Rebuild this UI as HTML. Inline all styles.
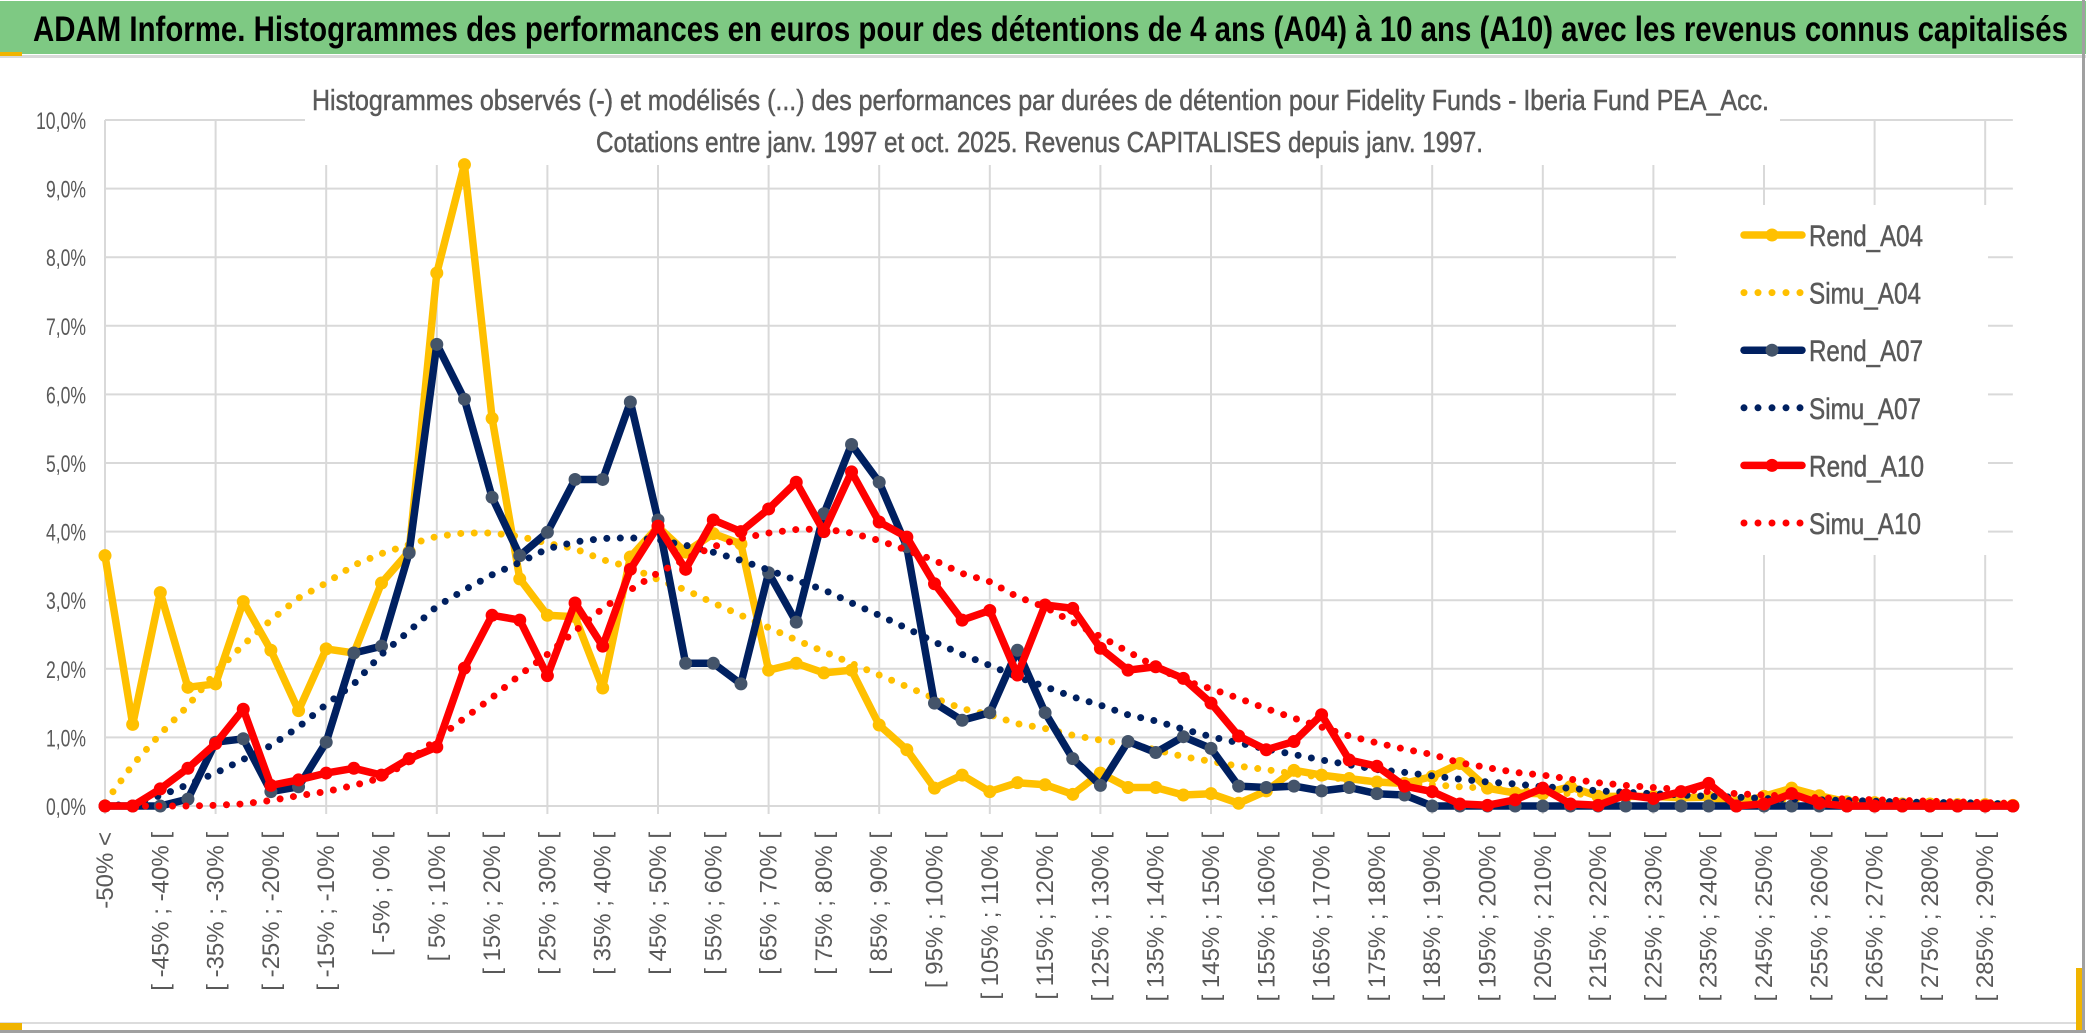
<!DOCTYPE html>
<html><head><meta charset="utf-8"><style>
html,body{margin:0;padding:0;background:#fff;}
svg{display:block;font-family:"Liberation Sans",sans-serif;}
</style></head><body>
<svg id="chart" width="2086" height="1033" viewBox="0 0 2086 1033" xmlns="http://www.w3.org/2000/svg">
<rect x="0" y="0" width="2086" height="1033" fill="#fff"/>
<rect x="0" y="1" width="2086" height="53" fill="#7ec983"/>
<text x="33" y="41" font-size="35" font-weight="bold" fill="#000" textLength="2035" lengthAdjust="spacingAndGlyphs">ADAM Informe. Histogrammes des performances en euros pour des détentions de 4 ans (A04) à 10 ans (A10) avec les revenus connus capitalisés</text>
<rect x="0" y="55" width="2086" height="3" fill="#d9d9d9"/>
<rect x="0" y="52" width="22" height="4" fill="#f0b400"/>
<rect x="2082" y="0" width="3" height="1033" fill="#a0a0a0"/>
<rect x="0" y="1030" width="2086" height="3" fill="#a0a0a0"/>
<rect x="0" y="1022" width="2082" height="2" fill="#dcdcdc"/>
<rect x="0" y="1023" width="22" height="7" fill="#f0b400"/>
<rect x="2076" y="968" width="6" height="62" fill="#f0b400"/>
<g id="grid"></g>
<rect x="305" y="60" width="1475" height="105" fill="#fff"/>
<text x="312" y="110" font-size="29" fill="#595959" stroke="#595959" stroke-width="0.5" textLength="1457" lengthAdjust="spacingAndGlyphs">Histogrammes observés (-) et modélisés (...) des performances par durées de détention pour Fidelity Funds - Iberia Fund PEA_Acc.</text>
<text x="596" y="152" font-size="29" fill="#595959" stroke="#595959" stroke-width="0.5" textLength="887" lengthAdjust="spacingAndGlyphs">Cotations entre janv. 1997 et oct. 2025. Revenus CAPITALISES depuis janv. 1997.</text>
<g id="series"></g>
<g id="xlabels"></g>
<g id="ylabels"></g>
<g id="legend"></g>
</svg>
<script>
const categories = ["-50% <"];
for (let k = 1; k < 70; k++) { const a = -55 + 5 * k; categories.push("[ " + a + "% ; " + (a + 5) + "% ["); }
const yTicks = [0,1,2,3,4,5,6,7,8,9,10];
const yTickLabels = ["0,0%","1,0%","2,0%","3,0%","4,0%","5,0%","6,0%","7,0%","8,0%","9,0%","10,0%"];
const rendA04 = [3.65,1.19,3.11,1.73,1.78,2.98,2.27,1.39,2.29,2.23,3.25,3.71,7.77,9.35,5.65,3.31,2.78,2.76,1.72,
3.63,4.07,3.7,3.97,3.82,1.98,2.08,1.94,1.98,1.18,0.82,0.26,0.45,0.21,0.34,0.31,0.17,0.48,
0.27,0.27,0.16,0.18,0.04,0.22,0.52,0.45,0.4,0.35,0.33,0.43,0.62,0.26,0.19,0.18,0.28,0.14,
0.14,0.14,0.12,0.13,0.05,0.14,0.26,0.15,0.06,0.05,0.03,0.03,0.02,0.02,0.01];
const simuA04 = [0.05,0.6,1.05,1.46,1.95,2.35,2.71,3.03,3.25,3.51,3.68,3.81,3.93,3.98,3.98,3.93,3.83,3.75,3.59,
3.48,3.3,3.15,2.96,2.78,2.6,2.42,2.25,2.08,1.91,1.74,1.57,1.42,1.33,1.2,1.13,1.03,0.96,
0.9,0.82,0.72,0.65,0.58,0.53,0.47,0.42,0.39,0.35,0.33,0.31,0.28,0.26,0.23,0.21,0.18,0.16,
0.15,0.14,0.13,0.12,0.11,0.1,0.09,0.08,0.07,0.06,0.05,0.05,0.04,0.04,0.03];
const rendA07 = [0,0,0,0.1,0.93,0.98,0.21,0.28,0.93,2.23,2.33,3.69,6.73,5.93,4.5,3.65,3.99,4.76,4.76,
5.89,4.17,2.08,2.08,1.78,3.4,2.68,4.26,5.27,4.72,3.78,1.5,1.25,1.36,2.27,1.36,0.69,0.3,
0.94,0.78,1.01,0.84,0.29,0.27,0.29,0.22,0.27,0.18,0.16,0,0,0,0,0,0,0,
0,0,0,0,0,0,0,0,0,0,0,0,0,0,0];
const simuA07 = [0,0.03,0.15,0.31,0.48,0.68,0.88,1.15,1.48,1.78,2.21,2.55,2.91,3.15,3.37,3.55,3.75,3.85,3.9,
3.91,3.88,3.8,3.7,3.58,3.44,3.29,3.15,2.96,2.78,2.59,2.39,2.21,2.05,1.88,1.74,1.59,1.47,
1.33,1.24,1.12,1.01,0.92,0.83,0.75,0.67,0.6,0.53,0.49,0.44,0.39,0.35,0.32,0.28,0.26,0.22,
0.2,0.18,0.16,0.14,0.13,0.11,0.1,0.09,0.08,0.07,0.06,0.05,0.05,0.04,0.03];
const rendA10 = [0,0,0.25,0.55,0.91,1.41,0.3,0.38,0.48,0.55,0.45,0.69,0.86,2.01,2.78,2.71,1.9,2.96,2.33,
3.45,4.08,3.45,4.17,4.0,4.33,4.72,4.0,4.87,4.14,3.92,3.24,2.71,2.85,1.91,2.93,2.88,2.3,
1.98,2.03,1.86,1.5,1.02,0.82,0.94,1.33,0.67,0.58,0.29,0.21,0.03,0.01,0.09,0.26,0.03,0.01,
0.16,0.11,0.21,0.33,0,0.03,0.18,0.04,0,0,0,0,0,0,0];
const simuA10 = [0,0,0,0,0.01,0.03,0.08,0.15,0.21,0.3,0.41,0.65,0.98,1.28,1.58,1.91,2.21,2.55,2.88,
3.15,3.4,3.6,3.78,3.9,3.98,4.03,4.04,3.98,3.87,3.73,3.58,3.39,3.27,3.05,2.9,2.68,2.47,
2.25,2.03,1.83,1.71,1.57,1.42,1.28,1.15,1.02,0.92,0.83,0.75,0.63,0.56,0.49,0.45,0.39,0.34,
0.3,0.27,0.24,0.21,0.18,0.16,0.14,0.12,0.1,0.09,0.08,0.07,0.06,0.05,0.04];

const NS = "http://www.w3.org/2000/svg";
const X0 = 105, DX = 27.65, Y0 = 806, DY = 68.6;
const xPos = i => X0 + i * DX;
const yPos = v => Y0 - v * DY;
function mk(tag, parent, attrs) { const e = document.createElementNS(NS, tag); for (const k in attrs) e.setAttribute(k, attrs[k]); parent.appendChild(e); return e; }

const grid = document.getElementById("grid");
for (const t of yTicks) {
  const g = mk("line", grid, {x1: X0, x2: xPos(69), y1: yPos(t), y2: yPos(t), stroke: "#d9d9d9", "stroke-width": 2});
  
  
}
for (let i = 0; i < categories.length; i += 4) {
  const g = mk("line", grid, {x1: xPos(i), x2: xPos(i), y1: yPos(10), y2: Y0 + 8, stroke: "#d9d9d9", "stroke-width": 2});
  
  
}

const ylab = document.getElementById("ylabels");
yTicks.forEach((t, k) => {
  const s = yTickLabels[k];
  const el = mk("text", ylab, {x: 86, y: yPos(t) + 9, "text-anchor": "end", "font-size": 24, fill: "#595959", textLength: s.length === 5 ? 50 : 40, lengthAdjust: "spacingAndGlyphs"});
  el.textContent = s;
  
  
});

const xlab = document.getElementById("xlabels");
categories.forEach((c, i) => {
  if (i % 2 === 1) return;
  const x = xPos(i) + 8, y = 832;
  const el = mk("text", xlab, {x: x, y: y, "text-anchor": "end", "font-size": 24, fill: "#595959", transform: "rotate(-90 " + x + " " + y + ")"});
  el.textContent = c;
  
  
});

const seriesG = document.getElementById("series");
const seriesDefs = [
  {name: "Rend_A04", data: rendA04, color: "#FFC000", marker: "#FFC000", dotted: false},
  {name: "Simu_A04", data: simuA04, color: "#FFC000", dotted: true},
  {name: "Rend_A07", data: rendA07, color: "#002060", marker: "#44546A", dotted: false},
  {name: "Simu_A07", data: simuA07, color: "#002060", dotted: true},
  {name: "Rend_A10", data: rendA10, color: "#FF0000", marker: "#FF0000", dotted: false},
  {name: "Simu_A10", data: simuA10, color: "#FF0000", dotted: true}
];
for (const s of seriesDefs) {
  const pts = s.data.map((v, i) => xPos(i).toFixed(1) + "," + yPos(v).toFixed(1)).join(" ");
  const attrs = {points: pts, fill: "none", stroke: s.color, "stroke-linejoin": "round", "stroke-linecap": "round"};
  if (s.dotted) { attrs["stroke-width"] = 7; attrs["stroke-dasharray"] = "0 13.5"; }
  else { attrs["stroke-width"] = 7.5; }
  const pl = mk("polyline", seriesG, attrs);
  
  
  if (!s.dotted) {
    s.data.forEach((v, i) => {
      const c = mk("circle", seriesG, {cx: xPos(i), cy: yPos(v), r: 6.5, fill: s.marker});
      
      
    });
  }
}

const leg = document.getElementById("legend");
const bg = mk("rect", leg, {x: 1676, y: 205, width: 312, height: 350, fill: "#fff"});


const legW = [114, 112, 114, 112, 115, 112];
seriesDefs.forEach((s, k) => {
  const y = 235 + k * 57.6;
  const g = mk("g", leg, {});
  
  
  if (s.dotted) {
    mk("line", g, {x1: 1744, x2: 1802, y1: y, y2: y, stroke: s.color, "stroke-width": 7, "stroke-dasharray": "0 14", "stroke-linecap": "round"});
  } else {
    mk("line", g, {x1: 1744, x2: 1802, y1: y, y2: y, stroke: s.color, "stroke-width": 7.5, "stroke-linecap": "round"});
    mk("circle", g, {cx: 1772, cy: y, r: 6.5, fill: s.marker});
  }
  const t = mk("text", g, {x: 1809, y: y + 11, "font-size": 30, fill: "#595959", stroke: "#595959", "stroke-width": 0.5, textLength: legW[k], lengthAdjust: "spacingAndGlyphs"});
  t.textContent = s.name;
  
  
});
</script>
</body></html>
